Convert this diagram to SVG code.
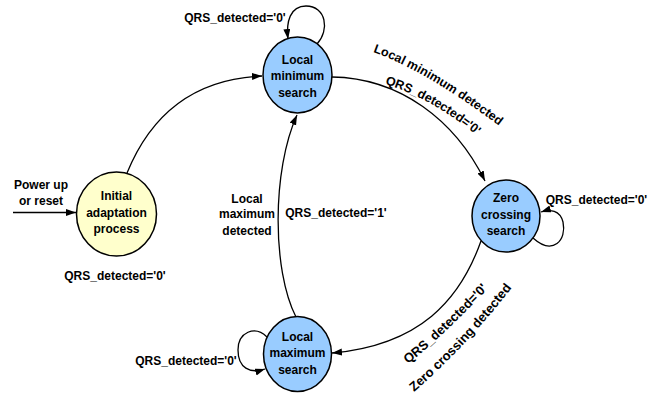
<svg xmlns="http://www.w3.org/2000/svg" width="663" height="397" viewBox="0 0 663 397">
<style>
text{font-family:"Liberation Sans",Arial,sans-serif;font-weight:bold;font-size:12px;fill:#000}
.c{text-anchor:middle}
.r{font-size:12.5px}
.r2{font-size:13px}
.node{stroke:#000;stroke-width:1.5}
.blue{fill:#99CCFF}
.yellow{fill:#FFFFCC}
.edge{fill:none;stroke:#000;stroke-width:1.3;marker-end:url(#ah)}
</style>
<defs>
<marker id="ah" markerUnits="userSpaceOnUse" markerWidth="11" markerHeight="8" refX="10" refY="3.5" orient="auto">
<path d="M0,0 L10,3.5 L0,7 z" fill="#000"/>
</marker>
<path id="p1" d="M 373 52 Q 425 70 502 128"/>
<path id="p2" d="M 385 84 Q 432 98 481 139"/>
<path id="p3" d="M 408 364 Q 450 330 495 281"/>
<path id="p4" d="M 414 392 Q 466 347 514 285"/>
</defs>
<g id="connectors">
<path class="edge" d="M 13 212.5 L 76 212.5"/>
<path class="edge" d="M 127 173 Q 165 80 262 76"/>
<path class="edge" d="M 332 77 C 400 78, 455 120, 485 181"/>
<path class="edge" d="M 481 241 C 460 300, 420 345, 332 353"/>
<path class="edge" d="M 296 317 C 272 270, 272 170, 297 115"/>
<path class="edge" d="M 317 44 C 330 30, 326 6, 306 6 C 290 6, 286 22, 288 39"/>
<path class="edge" d="M 533 238 C 553 256, 567 240, 563 222 C 560 210, 550 209, 541 212"/>
<path class="edge" d="M 267 337 C 255 325, 238 332, 238 350 C 238 368, 250 374, 265 369"/>
</g>
<g id="initial">
<ellipse class="node yellow" cx="116.5" cy="214" rx="40" ry="42"/>
<text class="c" x="116.5" y="200">Initial</text>
<text class="c" x="116.5" y="216.5">adaptation</text>
<text class="c" x="116.5" y="233">process</text>
</g>
<g id="local-min">
<ellipse class="node blue" cx="297.5" cy="75" rx="34.5" ry="38"/>
<text class="c" x="297.5" y="63.5">Local</text>
<text class="c" x="297.5" y="80">minimum</text>
<text class="c" x="297.5" y="96.5">search</text>
</g>
<g id="zero-crossing">
<ellipse class="node blue" cx="506" cy="216" rx="34" ry="36"/>
<text class="c" x="506" y="202">Zero</text>
<text class="c" x="506" y="218.5">crossing</text>
<text class="c" x="506" y="235">search</text>
</g>
<g id="local-max">
<ellipse class="node blue" cx="297.5" cy="354" rx="34" ry="37.5"/>
<text class="c" x="297.5" y="341">Local</text>
<text class="c" x="297.5" y="357">maximum</text>
<text class="c" x="297.5" y="373.5">search</text>
</g>
<g id="labels">
<text class="c" x="41" y="189">Power up</text>
<text class="c" x="41" y="205">or reset</text>
<text class="c" x="115" y="280">QRS_detected='0'</text>
<text class="c" x="235" y="22">QRS_detected='0'</text>
<text class="c" x="596.5" y="204">QRS_detected='0'</text>
<text class="c" x="186" y="365">QRS_detected='0'</text>
<text class="c" x="247" y="202.5">Local</text>
<text class="c" x="247" y="218">maximum</text>
<text class="c" x="247" y="235">detected</text>
<text class="c" x="336" y="217">QRS_detected='1'</text>
<text class="r"><textPath href="#p1">Local minimum detected</textPath></text>
<text class="r"><textPath href="#p2">QRS_detected='0'</textPath></text>
<text class="r2"><textPath href="#p3">QRS_detected='0'</textPath></text>
<text class="r2"><textPath href="#p4">Zero crossing detected</textPath></text>
</g>
</svg>
